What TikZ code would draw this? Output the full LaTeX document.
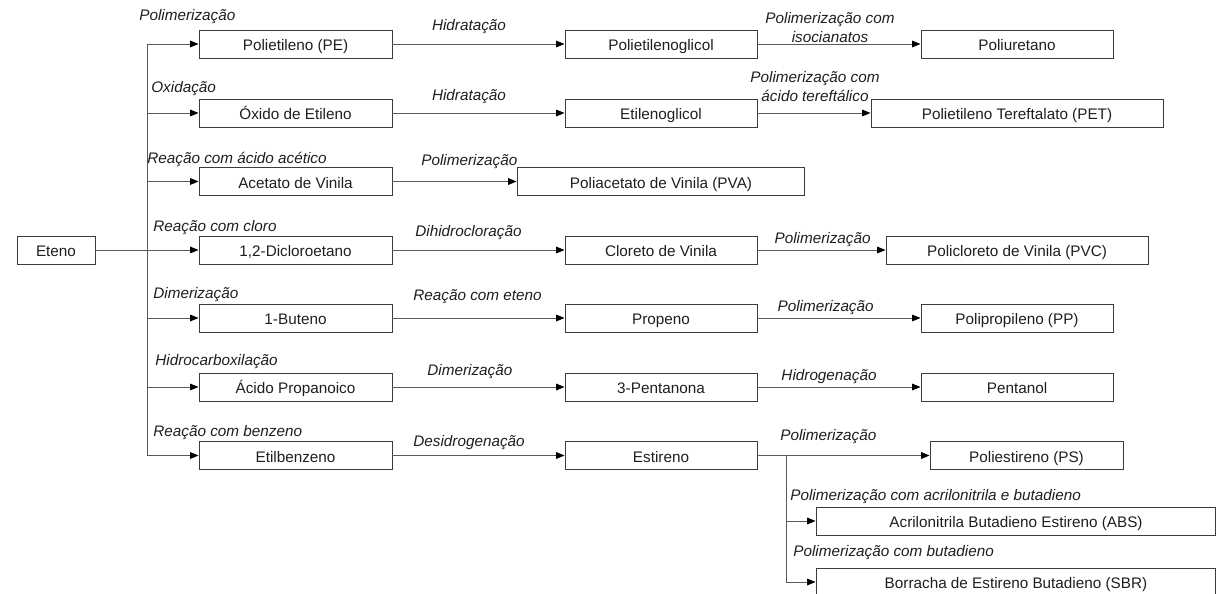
\documentclass[tikz,border=0pt]{standalone}
\usepackage{fontspec}
\setmainfont{Liberation Sans}
\usepackage{tikz}
\usetikzlibrary{positioning,arrows.meta,calc}
\definecolor{edge}{HTML}{5A5A5A}
\definecolor{frame}{HTML}{3C3C3C}
\definecolor{ink}{HTML}{1E1E1E}

\begin{document}
\begin{tikzpicture}[x=0.02cm,y=-0.02cm,
   font=\fontsize{8.7}{10.8}\selectfont,text=ink,
   box/.style={draw=frame,line width=0.55pt,minimum height=0.56cm,inner sep=0pt,
     text height=7.9pt,text depth=0pt},
   lbl/.style={font=\fontsize{8.7}{10.8}\selectfont\itshape,inner sep=0pt},
   line/.style={draw=edge,line width=0.55pt},
   arr/.style={line,-{Triangle[length=4.8pt,width=3.8pt,color=black]}}]
\useasboundingbox (0,0) rectangle (1217,594);
\begin{scope}
\clip (0,0) rectangle (1217,594);
% source and first column
\node[box,minimum width=1.56cm] (eteno) at (56,250) {Eteno};
\node[box,minimum width=3.86cm] (pe)  at (295.5,44)  {Polietileno (PE)};
\node[box,minimum width=3.86cm] (oxe) at (295.5,113) {Óxido de Etileno};
\node[box,minimum width=3.86cm] (acv) at (295.5,181.5) {Acetato de Vinila};
\node[box,minimum width=3.86cm] (dce) at (295.5,250) {1,2-Dicloroetano};
\node[box,minimum width=3.86cm] (but) at (295.5,318) {1-Buteno};
\node[box,minimum width=3.86cm] (acp) at (295.5,387) {Ácido Propanoico};
\node[box,minimum width=3.86cm] (etb) at (295.5,455.5) {Etilbenzeno};
% second column
\node[box,minimum width=3.84cm] (peg) at (661,44)  {Polietilenoglicol};
\node[box,minimum width=3.84cm] (etg) at (661,113) {Etilenoglicol};
\node[box,minimum width=5.76cm] (pva) at (661,181.5) {Poliacetato de Vinila (PVA)};
\node[box,minimum width=3.84cm] (cv)  at (661,250) {Cloreto de Vinila};
\node[box,minimum width=3.84cm] (prp) at (661,318) {Propeno};
\node[box,minimum width=3.84cm] (ptn) at (661,387) {3-Pentanona};
\node[box,minimum width=3.84cm] (est) at (661,455.5) {Estireno};
% third column
\node[box,minimum width=3.84cm] (pu)  at (1017,44)  {Poliuretano};
\node[box,minimum width=5.84cm] (pet) at (1017,113) {Polietileno Tereftalato (PET)};
\node[box,minimum width=5.24cm] (pvc) at (1017,250) {Policloreto de Vinila (PVC)};
\node[box,minimum width=3.84cm] (pp)  at (1017,318) {Polipropileno (PP)};
\node[box,minimum width=3.84cm] (pol) at (1017,387) {Pentanol};
\node[box,minimum width=3.86cm] (ps)  at (1026.5,455.5) {Poliestireno (PS)};
\node[box,minimum width=8cm] (abs) at (1016,521) {Acrilonitrila Butadieno Estireno (ABS)};
\node[box,minimum width=8cm] (sbr) at (1016,582) {Borracha de Estireno Butadieno (SBR)};
% trunk from Eteno
\coordinate (tr) at (147,250);
\draw[line] (eteno.east) -- (tr);
\draw[line] (tr |- pe.west) -- (tr |- etb.west);
\foreach \b in {pe,oxe,acv,dce,but,acp,etb}
  \draw[arr] (tr |- \b.west) -- (\b.west);
% second step
\draw[arr] (pe.east)  -- (peg.west);
\draw[arr] (oxe.east) -- (etg.west);
\draw[arr] (acv.east) -- (pva.west);
\draw[arr] (dce.east) -- (cv.west);
\draw[arr] (but.east) -- (prp.west);
\draw[arr] (acp.east) -- (ptn.west);
\draw[arr] (etb.east) -- (est.west);
% third step
\draw[arr] (peg.east) -- (pu.west);
\draw[arr] (etg.east) -- (pet.west);
\draw[arr] (cv.east)  -- (pvc.west);
\draw[arr] (prp.east) -- (pp.west);
\draw[arr] (ptn.east) -- (pol.west);
\draw[arr] (est.east) -- (ps.west);
\coordinate (sp) at (786,455.5);
\draw[line] (sp) -- (sp |- sbr.west);
\draw[arr] (sp |- abs.west) -- (abs.west);
\draw[arr] (sp |- sbr.west) -- (sbr.west);
% reaction labels
\node[lbl,anchor=west] (l-pe)  at (139,17)  {Polimerização};
\node[lbl,anchor=west] (l-oxe) at (151,89)  {Oxidação};
\node[lbl,anchor=west] (l-acv) at (147,159) {Reação com ácido acético};
\node[lbl,anchor=west] (l-dce) at (153,228) {Reação com cloro};
\node[lbl,anchor=west] (l-but) at (153,295) {Dimerização};
\node[lbl,anchor=west] (l-acp) at (155,362) {Hidrocarboxilação};
\node[lbl,anchor=west] (l-etb) at (153,433) {Reação com benzeno};
\node[lbl] (l-peg) at (469,27) {Hidratação};
\node[lbl] (l-etg) at (469,97) {Hidratação};
\node[lbl,anchor=west] (l-pva) at (421,162) {Polimerização};
\node[lbl,anchor=west] (l-cv)  at (415,233) {Dihidrocloração};
\node[lbl,anchor=west] (l-prp) at (413,297) {Reação com eteno};
\node[lbl,anchor=west] (l-ptn) at (427,372) {Dimerização};
\node[lbl,anchor=west] (l-est) at (413,443) {Desidrogenação};
\node[lbl,align=center] (l-pu)  at (830,27.5) {Polimerização com\\isocianatos};
\node[lbl,align=center] (l-pet) at (815,87) {Polimerização com\\ácido tereftálico};
\node[lbl,anchor=east] (l-pvc) at (871,240) {Polimerização};
\node[lbl,anchor=east] (l-pp)  at (874,308) {Polimerização};
\node[lbl,anchor=east] (l-pol) at (877,377) {Hidrogenação};
\node[lbl,anchor=west] (l-ps)  at (780,437) {Polimerização};
\node[lbl,anchor=west] (l-abs) at (790,497) {Polimerização com acrilonitrila e butadieno};
\node[lbl,anchor=west] (l-sbr) at (793,553) {Polimerização com butadieno};
\end{scope}
\end{tikzpicture}
\end{document}
